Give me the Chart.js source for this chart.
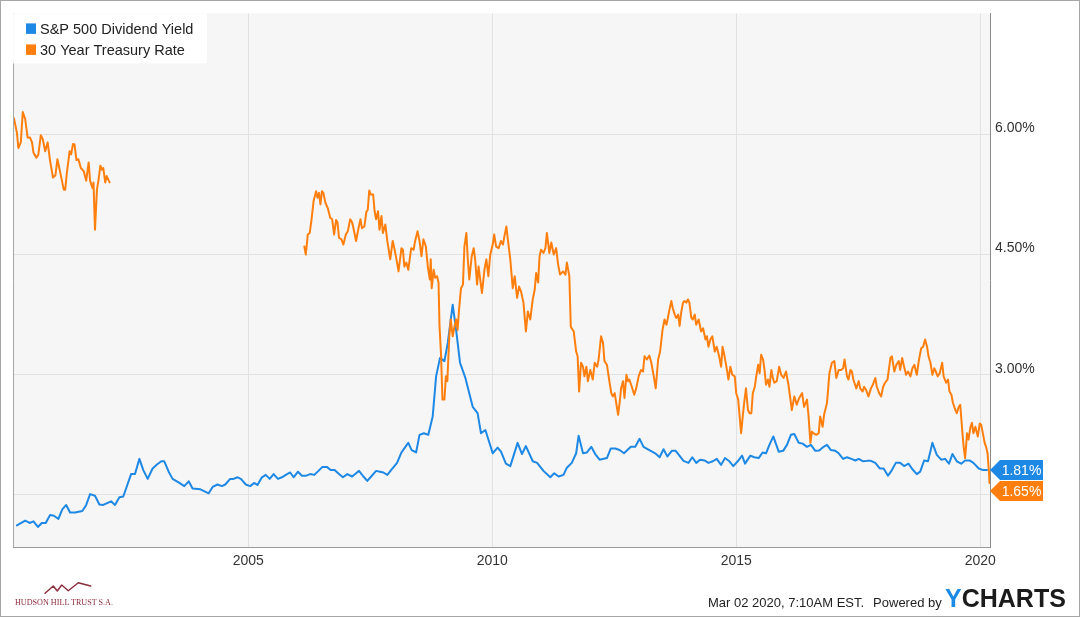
<!DOCTYPE html>
<html>
<head>
<meta charset="utf-8">
<script src="https://cdn.jsdelivr.net/npm/chart.js@4.4.1/dist/chart.umd.min.js"></script>
<style>
html,body{margin:0;padding:0;background:#fff;}
#wrap{position:relative;width:1080px;height:617px;overflow:hidden;font-family:"Liberation Sans",Arial,sans-serif;}
#c{position:absolute;left:0;top:0;}
#footer{position:absolute;left:708px;top:595px;font-size:13px;line-height:15px;color:#222;white-space:nowrap;}
#footer span{margin-left:9px;}
#brand{position:absolute;left:945px;top:584px;font-size:25px;line-height:29px;font-weight:bold;letter-spacing:0px;color:#1b1b1b;white-space:nowrap;}
#brand span{color:#1a8ae6;}
#logo{position:absolute;left:0;top:570px;}
#frame{position:absolute;left:0;top:0;width:1078px;height:615px;border:1px solid #a6a6a6;pointer-events:none;}
</style>
</head>
<body>
<div id="wrap">
<canvas id="c" width="1080" height="617"></canvas>
<svg id="logo" width="130" height="45" viewBox="0 0 130 45">
  <polyline points="45,23.3 53.3,16 57.3,21 61.7,15 68.3,20.7 78.3,12.7 90.7,16" fill="none" stroke="#8c2d3c" stroke-width="1.4" stroke-linejoin="round" stroke-linecap="round"/>
  <text x="15" y="34.5" font-family="Liberation Serif, DejaVu Serif, serif" font-size="8.5" fill="#8c2d3c" textLength="98" lengthAdjust="spacingAndGlyphs">HUDSON HILL TRUST S.A.</text>
</svg>
<div id="footer">Mar 02 2020, 7:10AM EST.<span>Powered by</span></div>
<div id="brand"><span>Y</span>CHARTS</div>
<div id="frame"></div>
</div>
<script>
// ---- Data ----
const seriesNames = ['S&P 500 Dividend Yield', '30 Year Treasury Rate'];
const xTicks = [2005, 2010, 2015, 2020];
const yTicks = [1.5, 3, 4.5, 6];

// S&P 500 dividend yield (%), dates as decimal years
const divDates = [
 2000.26,2000.43,2000.52,2000.60,2000.69,2000.77,2000.85,2000.94,
 2001.02,2001.11,2001.19,2001.27,2001.35,2001.45,2001.60,2001.68,2001.76,2001.86,2001.95,
 2002.03,2002.19,2002.27,2002.36,2002.44,2002.60,2002.68,2002.77,2002.85,2002.94,
 2003.04,2003.13,2003.22,2003.28,2003.37,2003.45,2003.59,2003.69,2003.78,2003.86,
 2004.02,2004.19,2004.27,2004.37,2004.46,2004.53,2004.63,2004.70,2004.78,2004.85,2004.95,
 2005.04,2005.12,2005.19,2005.28,2005.36,2005.44,2005.52,2005.61,2005.69,2005.77,2005.86,2005.93,
 2006.02,2006.10,2006.19,2006.27,2006.35,2006.44,2006.52,2006.61,2006.69,2006.77,2006.86,2006.94,
 2007.03,2007.13,2007.21,2007.27,2007.36,2007.44,2007.52,2007.62,2007.70,2007.77,2007.85,2007.94,
 2008.05,2008.14,2008.22,2008.28,2008.35,2008.44,2008.51,2008.60,2008.69,2008.78,2008.85,2008.93,
 2009.02,2009.09,2009.19,2009.26,2009.34,2009.45,2009.60,2009.70,2009.77,2009.86,
 2010.01,2010.11,2010.18,2010.28,2010.37,2010.52,2010.61,2010.69,2010.83,2010.92,
 2011.05,2011.19,2011.27,2011.36,2011.46,2011.53,2011.63,2011.72,2011.77,2011.86,2011.94,
 2012.03,2012.11,2012.20,2012.35,2012.43,2012.52,2012.61,2012.70,2012.84,2012.93,
 2013.02,2013.10,2013.22,2013.34,2013.43,2013.51,2013.59,2013.68,2013.76,2013.92,
 2014.02,2014.10,2014.18,2014.26,2014.35,2014.43,2014.52,2014.60,2014.69,2014.77,2014.86,2014.94,
 2015.03,2015.12,2015.18,2015.29,2015.37,2015.46,2015.54,2015.61,2015.68,2015.76,2015.87,2015.96,
 2016.04,2016.12,2016.19,2016.28,2016.36,2016.45,2016.53,2016.62,2016.70,2016.79,2016.86,2016.94,
 2017.03,2017.10,2017.19,2017.27,2017.36,2017.44,2017.51,2017.60,2017.68,2017.76,2017.85,2017.94,
 2018.02,2018.11,2018.19,2018.27,2018.36,2018.44,2018.53,2018.61,2018.70,2018.77,2018.85,2018.93,
 2019.02,2019.11,2019.20,2019.28,2019.36,2019.43,2019.52,2019.61,2019.69,2019.78,2019.86,2019.97,
 2020.06,2020.14
];
const divYield = [
 1.12,1.18,1.15,1.17,1.10,1.15,1.15,1.25,
 1.24,1.20,1.32,1.375,1.28,1.28,1.30,1.375,1.51,1.49,1.38,
 1.375,1.42,1.375,1.47,1.48,1.76,1.76,1.95,1.81,1.70,
 1.83,1.88,1.92,1.92,1.79,1.70,1.65,1.61,1.67,1.58,
 1.57,1.52,1.60,1.63,1.61,1.63,1.70,1.70,1.72,1.70,1.63,
 1.61,1.65,1.625,1.72,1.75,1.70,1.76,1.70,1.72,1.75,1.78,1.72,
 1.79,1.74,1.74,1.76,1.75,1.80,1.85,1.85,1.81,1.81,1.76,1.72,
 1.76,1.73,1.77,1.80,1.73,1.675,1.73,1.80,1.79,1.78,1.75,1.82,
 1.90,2.03,2.10,2.15,2.06,2.03,2.25,2.27,2.25,2.48,2.98,3.21,
 3.17,3.40,3.875,3.56,3.15,2.96,2.60,2.52,2.27,2.31,
 2.02,2.09,2.04,1.89,1.86,2.15,2.01,2.11,1.92,1.90,
 1.80,1.72,1.77,1.73,1.75,1.84,1.90,2.02,2.24,2.02,2.03,
 2.10,2.01,1.94,1.96,2.08,2.08,2.06,2.02,2.10,2.10,
 2.20,2.10,2.06,2.02,1.97,2.07,1.98,2.05,2.05,1.925,
 1.90,1.97,1.90,1.94,1.93,1.90,1.92,1.95,1.875,1.96,1.92,1.86,
 1.92,1.99,1.89,1.99,1.97,1.96,2.03,2.02,2.125,2.23,2.04,2.05,
 2.125,2.25,2.26,2.15,2.14,2.10,2.125,2.05,2.055,2.10,2.125,2.06,
 2.05,2.02,1.95,1.97,1.95,1.93,1.95,1.92,1.925,1.925,1.90,1.83,
 1.83,1.74,1.81,1.90,1.90,1.86,1.89,1.82,1.76,1.79,1.93,1.92,
 2.15,2.00,1.94,1.95,1.89,2.01,1.92,1.89,1.93,1.93,1.90,1.83,
 1.81,1.81
];

// 30 year treasury rate (%); null marks the 2002-2006 gap
const tsyDates = [
 2000.20,2000.26,2000.29,2000.34,2000.38,2000.43,2000.48,2000.53,2000.57,2000.60,2000.66,2000.70,2000.75,2000.79,2000.84,2000.89,2000.94,
 2001.00,2001.05,2001.09,2001.15,2001.22,2001.25,2001.28,2001.34,2001.37,2001.41,2001.44,2001.48,2001.52,2001.57,2001.63,2001.68,2001.73,2001.76,2001.81,2001.83,2001.86,2001.90,2001.93,2001.97,
 2002.00,2002.03,2002.07,2002.10,2002.16,
 2004.00,
 2006.15,2006.18,2006.22,2006.26,2006.29,2006.34,2006.39,2006.42,2006.45,2006.48,2006.51,2006.54,2006.58,2006.63,2006.68,2006.72,2006.76,2006.80,2006.83,2006.86,2006.91,2006.95,
 2007.00,2007.04,2007.09,2007.13,2007.17,2007.21,2007.26,2007.30,2007.33,2007.38,2007.42,2007.45,2007.48,2007.51,2007.56,2007.59,2007.62,2007.66,2007.69,2007.73,2007.76,2007.81,2007.85,2007.91,2007.96,
 2008.00,2008.05,2008.08,2008.14,2008.17,2008.20,2008.24,2008.28,2008.34,2008.39,2008.42,2008.47,2008.51,2008.55,2008.59,2008.64,2008.68,2008.72,2008.74,2008.76,2008.80,2008.83,2008.87,2008.90,2008.92,2008.95,2008.98,
 2009.02,2009.05,2009.08,2009.12,2009.15,2009.19,2009.22,2009.26,2009.29,2009.32,2009.36,2009.40,2009.43,2009.47,2009.50,2009.53,2009.58,2009.62,2009.65,2009.69,2009.72,2009.75,2009.79,2009.84,2009.88,2009.92,2009.96,
 2010.01,2010.04,2010.08,2010.13,2010.18,2010.22,2010.25,2010.29,2010.32,2010.37,2010.42,2010.46,2010.51,2010.55,2010.59,2010.64,2010.69,2010.73,2010.78,2010.83,2010.87,2010.90,2010.94,2010.97,
 2011.00,2011.05,2011.09,2011.12,2011.17,2011.21,2011.26,2011.31,2011.35,2011.39,2011.45,2011.50,2011.53,2011.58,2011.61,2011.67,2011.72,2011.75,2011.78,2011.82,2011.86,2011.89,2011.93,2011.96,
 2012.01,2012.06,2012.10,2012.15,2012.18,2012.23,2012.27,2012.30,2012.35,2012.40,2012.44,2012.47,2012.51,2012.54,2012.58,2012.61,2012.64,2012.68,2012.71,2012.75,2012.78,2012.81,2012.86,2012.91,2012.95,
 2013.00,2013.05,2013.09,2013.12,2013.17,2013.22,2013.26,2013.31,2013.35,2013.40,2013.44,2013.49,2013.53,2013.57,2013.60,2013.63,2013.67,2013.70,2013.74,2013.77,2013.81,2013.84,2013.87,2013.91,2013.94,2013.98,
 2014.01,2014.04,2014.08,2014.11,2014.15,2014.18,2014.23,2014.28,2014.32,2014.37,2014.40,2014.43,2014.47,2014.51,2014.56,2014.60,2014.65,2014.69,2014.72,2014.76,2014.81,2014.84,2014.88,2014.92,2014.97,
 2015.00,2015.04,2015.07,2015.10,2015.14,2015.17,2015.20,2015.24,2015.27,2015.31,2015.34,2015.38,2015.41,2015.45,2015.48,2015.51,2015.55,2015.58,2015.61,2015.65,2015.68,2015.72,2015.75,2015.78,2015.83,2015.88,2015.92,2015.97,
 2016.02,2016.07,2016.14,2016.19,2016.24,2016.29,2016.35,2016.39,2016.45,2016.48,2016.52,2016.55,2016.58,2016.64,2016.69,2016.72,2016.77,2016.80,2016.86,2016.91,2016.96,
 2017.01,2017.05,2017.10,2017.15,2017.19,2017.22,2017.27,2017.30,2017.34,2017.37,2017.40,2017.46,2017.51,2017.54,2017.59,2017.62,2017.66,2017.71,2017.76,2017.80,2017.85,2017.88,2017.93,2017.97,
 2018.01,2018.05,2018.10,2018.16,2018.19,2018.24,2018.28,2018.33,2018.36,2018.40,2018.44,2018.48,2018.52,2018.57,2018.61,2018.65,2018.70,2018.74,2018.79,2018.83,2018.87,2018.91,2018.94,2018.98,
 2019.02,2019.06,2019.09,2019.13,2019.17,2019.22,2019.25,2019.30,2019.34,2019.37,2019.41,2019.44,2019.49,2019.52,2019.56,2019.59,2019.63,2019.66,2019.69,2019.73,2019.76,2019.80,2019.83,2019.86,2019.90,2019.95,2019.99,
 2020.02,2020.06,2020.09,2020.12,2020.15,2020.18,2020.19
];
const tsyRate = [
 6.20,6.02,5.83,5.90,6.28,6.19,5.96,5.96,5.90,5.77,5.71,5.75,5.99,5.94,5.79,5.90,5.67,
 5.46,5.49,5.69,5.52,5.31,5.31,5.50,5.79,5.75,5.88,5.875,5.68,5.69,5.58,5.54,5.42,5.65,5.42,5.33,5.40,4.81,5.31,5.42,5.61,
 5.56,5.58,5.40,5.48,5.40,
 null,
 4.60,4.50,4.75,4.77,4.90,5.17,5.29,5.21,5.27,5.125,5.29,5.27,5.15,5.08,4.96,4.94,4.75,4.93,4.90,4.71,4.69,4.625,
 4.75,4.79,4.94,4.90,4.79,4.67,4.83,4.94,4.83,4.85,5.03,5.06,5.30,5.25,5.25,5.04,4.94,5.04,4.81,4.98,4.77,4.875,4.67,4.44,4.67,
 4.56,4.40,4.29,4.58,4.56,4.35,4.40,4.31,4.58,4.56,4.67,4.79,4.67,4.48,4.69,4.60,4.35,4.19,4.44,4.08,4.31,4.21,4.23,4.15,3.60,3.27,2.69,
 2.69,2.98,2.92,3.48,3.69,3.48,3.58,3.69,3.56,3.81,4.08,4.125,4.60,4.77,4.44,4.19,4.48,4.58,4.44,4.125,4.35,4.21,4.02,4.31,4.44,4.23,4.50,
 4.625,4.75,4.60,4.58,4.67,4.625,4.73,4.85,4.69,4.44,4.08,4.23,3.96,4.10,4.04,3.90,3.54,3.79,3.69,3.94,4.06,4.27,4.15,4.48,
 4.56,4.52,4.58,4.77,4.52,4.65,4.50,4.58,4.375,4.25,4.29,4.25,4.40,4.23,3.60,3.54,3.29,3.23,2.79,3.15,3.10,2.98,3.10,2.92,
 3.06,2.94,3.15,3.10,3.19,3.48,3.40,3.17,3.125,2.92,2.77,2.73,2.77,2.65,2.50,2.65,2.83,2.92,2.71,3.00,2.92,2.94,2.85,2.75,2.83,
 2.98,3.06,3.04,3.23,3.19,3.24,3.15,2.98,2.83,3.19,3.29,3.56,3.69,3.625,3.71,3.81,3.92,3.83,3.75,3.71,3.75,3.61,3.77,3.90,3.92,3.90,
 3.94,3.90,3.71,3.69,3.75,3.625,3.69,3.54,3.58,3.44,3.48,3.35,3.44,3.48,3.29,3.35,3.23,3.10,3.35,3.23,3.06,2.94,3.10,3.00,2.98,
 2.77,2.69,2.48,2.27,2.52,2.69,2.83,2.56,2.52,2.52,2.77,2.85,2.98,3.125,3.02,3.25,3.19,3.06,2.875,2.94,2.85,3.06,2.96,2.90,2.92,3.10,3.00,2.96,
 3.04,2.875,2.56,2.73,2.625,2.71,2.77,2.60,2.69,2.50,2.15,2.29,2.27,2.25,2.27,2.48,2.35,2.50,2.65,3.02,3.15,
 3.17,2.96,3.06,3.06,3.08,3.19,2.98,2.94,3.06,3.04,2.94,2.83,2.92,2.83,2.79,2.85,2.81,2.73,2.83,2.875,2.96,2.85,2.77,2.73,
 2.85,2.90,2.94,3.21,3.23,3.04,3.125,3.17,3.06,3.21,3.10,3.00,3.04,2.98,3.08,3.125,3.00,3.17,3.33,3.35,3.44,3.35,3.23,3.15,
 3.00,3.08,3.04,2.98,3.02,3.15,2.98,2.90,2.94,2.79,2.75,2.65,2.56,2.52,2.60,2.625,2.31,2.10,1.96,2.27,2.19,2.35,2.40,2.27,2.35,2.23,2.39,
 2.375,2.25,2.15,2.10,2.02,1.77,1.65
];

// ---- Styling ----
const BLUE = '#1e88e5';
const ORANGE = '#ff7f0e';
const FONT = '"Liberation Sans", Arial, sans-serif';

const framePlugin = {
  id: 'frameDecor',
  beforeDraw(chart) {
    const { ctx, chartArea: a } = chart;
    ctx.save();
    ctx.fillStyle = '#f6f6f6';
    ctx.fillRect(a.left, a.top, a.right - a.left, a.bottom - a.top);
    ctx.restore();
  },
  afterDraw(chart) {
    const { ctx, chartArea: a } = chart;
    ctx.save();
    // left border of plot
    ctx.strokeStyle = '#a8a8a8';
    ctx.lineWidth = 1;
    ctx.beginPath();
    ctx.moveTo(a.left + 0.5, a.top);
    ctx.lineTo(a.left + 0.5, a.bottom);
    ctx.stroke();

    // legend box
    ctx.fillStyle = 'rgba(255,255,255,0.95)';
    ctx.fillRect(a.left, a.top, 194, 50);
    ctx.font = '14.5px ' + FONT;
    ctx.textBaseline = 'alphabetic';
    ctx.textAlign = 'left';
    chart.data.datasets.forEach((ds, i) => {
      const base = a.top + 20.5 + i * 21;
      ctx.fillStyle = ds.borderColor;
      ctx.fillRect(a.left + 13, base - 10.5, 10, 10.5);
      ctx.fillStyle = '#222';
      ctx.fillText(ds.label, a.left + 27, base);
    });

    // end value tags
    const ys = chart.scales.y;
    const tags = chart.data.datasets.map(ds => {
      let last = null;
      for (let k = ds.data.length - 1; k >= 0; k--) { if (ds.data[k].y != null) { last = ds.data[k]; break; } }
      return { y: ys.getPixelForValue(last.y), color: ds.borderColor, text: last.y.toFixed(2) + '%' };
    }).sort((p, q) => p.y - q.y);
    for (let k = 1; k < tags.length; k++) {
      if (tags[k].y - tags[k - 1].y < 21) tags[k].y = tags[k - 1].y + 21;
    }
    ctx.font = '14px ' + FONT;
    ctx.textBaseline = 'middle';
    ctx.textAlign = 'center';
    tags.forEach(t => {
      const x0 = a.right, cy = t.y;
      ctx.fillStyle = t.color;
      ctx.beginPath();
      ctx.moveTo(x0, cy);
      ctx.lineTo(x0 + 10, cy - 10);
      ctx.lineTo(x0 + 53, cy - 10);
      ctx.lineTo(x0 + 53, cy + 10);
      ctx.lineTo(x0 + 10, cy + 10);
      ctx.closePath();
      ctx.fill();
      ctx.fillStyle = '#ffffff';
      ctx.fillText(t.text, x0 + 31.5, cy + 1);
    });
    ctx.restore();
  }
};

new Chart(document.getElementById('c'), {
  type: 'line',
  data: {
    datasets: [
      {
        label: seriesNames[0],
        data: divDates.map((d, i) => ({ x: d, y: divYield[i] })),
        borderColor: BLUE,
        backgroundColor: BLUE,
        borderWidth: 2,
        pointRadius: 0,
        tension: 0,
        order: 2
      },
      {
        label: seriesNames[1],
        data: tsyDates.map((d, i) => ({ x: d, y: tsyRate[i] })),
        borderColor: ORANGE,
        backgroundColor: ORANGE,
        borderWidth: 2,
        pointRadius: 0,
        tension: 0,
        spanGaps: false,
        order: 1
      }
    ]
  },
  options: {
    responsive: false,
    animation: false,
    devicePixelRatio: 1,
    events: [],
    layout: { padding: { left: 13, top: 13, right: 0, bottom: 0 } },
    elements: { line: { borderJoinStyle: 'round', borderCapStyle: 'round' } },
    plugins: { legend: { display: false }, tooltip: { enabled: false } },
    scales: {
      x: {
        type: 'linear',
        min: 2000.18,
        max: 2020.20,
        afterBuildTicks: s => { s.ticks = xTicks.map(v => ({ value: v })); },
        afterFit: s => { s.height = 70; },
        grid: { color: '#e2e2e2', drawTicks: false },
        border: { display: true, color: '#9a9a9a' },
        ticks: {
          padding: 6, color: '#333', autoSkip: false, maxRotation: 0,
          font: { family: FONT, size: 14 },
          callback: v => String(v)
        }
      },
      y: {
        type: 'linear',
        position: 'right',
        min: 0.85,
        max: 7.51,
        afterBuildTicks: s => { s.ticks = yTicks.map(v => ({ value: v })); },
        afterFit: s => { s.width = 90; },
        grid: { color: '#e2e2e2', drawTicks: false },
        border: { display: true, color: '#8a8a8a' },
        ticks: {
          padding: 5, labelOffset: -6, color: '#333',
          font: { family: FONT, size: 14 },
          callback: v => (v === 1.5 ? '' : v.toFixed(2) + '%')
        }
      }
    }
  },
  plugins: [framePlugin]
});
</script>
</body>
</html>
